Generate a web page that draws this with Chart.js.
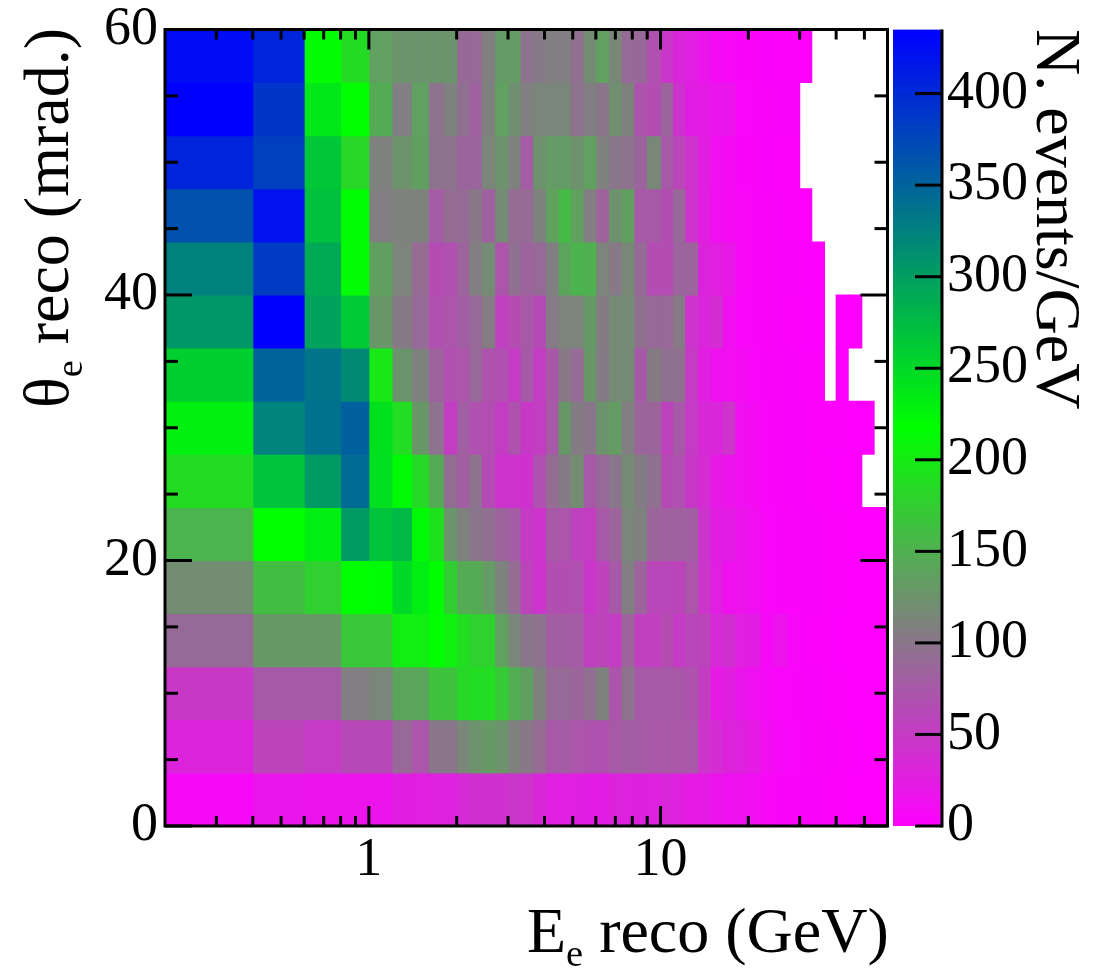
<!DOCTYPE html>
<html>
<head>
<meta charset="utf-8">
<title>Reco electron energy vs angle</title>
<script src="https://cdn.jsdelivr.net/npm/chart.js@4"></script>
<style>
  html, body { margin: 0; padding: 0; background: #fff; }
  #page { position: relative; width: 1096px; height: 972px; overflow: hidden; }
  canvas { position: absolute; top: 0; }
  #mapCanvas { left: 0; }
  #barCanvas { left: 890px; }
  .title { position: absolute; font: 64px/1 "Liberation Serif", serif; color: #000; white-space: nowrap; transform-origin: 0 0; }
  .title sub { font-size: 60%; line-height: 0; }
  #xTitle { left: 527px; top: 899px; }
  #yTitle { left: 15px; top: 408px; transform: rotate(-90deg); }
  #zTitle { left: 1090px; top: 29px; transform: rotate(90deg); }
</style>
</head>
<body>
<div id="page">
  <canvas id="mapCanvas" width="892" height="972" style="width:892px;height:972px"></canvas>
  <canvas id="barCanvas" width="206" height="972" style="width:206px;height:972px"></canvas>
  <div class="title" id="xTitle">E<sub>e</sub> reco (GeV)</div>
  <div class="title" id="yTitle">θ<sub>e</sub> reco (mrad.)</div>
  <div class="title" id="zTitle">N. events/GeV</div>
</div>
<script>
const energyEdges = [0.2, 0.4, 0.6, 0.8, 1, 1.2, 1.4, 1.6, 1.8, 2, 2.2, 2.43, 2.7, 3, 3.3, 3.64, 4.03, 4.45, 4.91, 5.43, 6, 6.63, 7.33, 8.1, 8.95, 10, 11, 12.1, 13.4, 14.8, 16.3, 18, 20, 22, 24.3, 27, 30, 33, 36.5, 40, 44, 49, 54, 60];
const thetaEdges = [0, 4, 8, 12, 16, 20, 24, 28, 32, 36, 40, 44, 48, 52, 56, 60];

// events/GeV per energy bin, one list per theta bin (null = empty bin, left white)
const row00to04 = [8, 18, 16, 16, 16, 25, 26, 28, 28, 36, 40, 42, 42, 46, 44, 34, 26, 26, 26, 24, 24, 30, 28, 28, 28, 32, 27, 22, 22, 17, 14, 14, 13, 7, 5, 4, 3, 3, 2, 2, 1, 1, 1];
const row04to08 = [30, 58, 50, 62, 62, 88, 72, 100, 100, 115, 125, 130, 125, 110, 102, 92, 75, 78, 72, 70, 68, 76, 80, 78, 74, 74, 74, 74, 44, 38, 30, 28, 22, 12, 8, 6, 5, 4, 3, 2, 2, 1, 1];
const row08to12 = [48, 76, 76, 108, 114, 140, 140, 165, 165, 185, 188, 188, 172, 147, 135, 110, 90, 90, 86, 94, 110, 72, 98, 76, 76, 76, 74, 70, 52, 22, 26, 18, 13, 8, 6, 5, 4, 3, 2, 2, 1, 1, 1];
const row12to16 = [90, 130, 130, 170, 170, 203, 203, 217, 205, 188, 178, 178, 136, 114, 100, 98, 80, 80, 78, 55, 58, 52, 84, 54, 54, 65, 50, 60, 58, 36, 40, 26, 24, 8, 16, 7, 3, 2, 2, 1, 1, 1, 1];
const row16to20 = [120, 162, 177, 217, 220, 250, 232, 218, 175, 145, 145, 132, 110, 92, 58, 44, 66, 66, 68, 46, 56, 76, 108, 84, 60, 60, 58, 72, 46, 26, 14, 16, 13, 6, 5, 4, 3, 3, 2, 2, 1, 1, 1];
const row20to24 = [153, 217, 232, 303, 268, 277, 222, 192, 126, 110, 100, 94, 84, 78, 50, 44, 76, 72, 56, 52, 76, 84, 114, 110, 86, 82, 82, 80, 43, 25, 24, 17, 13, 6, 5, 4, 3, 3, 2, 2, 1, 1, 1];
const row24to28 = [187, 268, 303, 343, 245, 222, 185, 145, 93, 80, 98, 64, 43, 43, 42, 68, 92, 105, 120, 76, 88, 100, 118, 105, 96, 64, 68, 47, 38, 21, 17, 13, 10, 5, 4, 3, 3, 2, 2, 1, 1, null, null];
const row28to32 = [230, 322, 338, 352, 243, 188, 128, 98, 52, 80, 68, 66, 52, 70, 48, 52, 76, 128, 106, 100, 126, 132, 108, 86, 86, 57, 76, 50, 34, 32, 44, 13, 9, 5, 4, 3, 3, 2, 2, 2, 1, 1, null];
const row32to36 = [258, 350, 335, 317, 199, 126, 110, 83, 68, 72, 88, 70, 68, 50, 76, 52, 75, 102, 92, 128, 105, 118, 118, 76, 106, 96, 96, 50, 26, 14, 12, 9, 6, 5, 4, 3, 2, 2, null, 1, null, null, null];
const row36to40 = [305, 435, 297, 262, 128, 104, 90, 68, 72, 80, 88, 106, 55, 65, 76, 64, 104, 112, 112, 130, 106, 118, 118, 96, 88, 88, 104, 44, 32, 38, 14, 6, 5, 4, 3, 2, 2, 1, null, 1, 1, null, null];
const row40to44 = [325, 384, 290, 215, 135, 112, 92, 65, 68, 85, 108, 118, 72, 95, 84, 90, 108, 140, 153, 150, 112, 103, 116, 90, 65, 65, 85, 85, 30, 26, 20, 7, 5, 4, 3, 3, 2, 1, null, null, null, null, null];
const row44to48 = [365, 420, 270, 220, 108, 110, 110, 78, 92, 92, 102, 82, 118, 92, 92, 110, 138, 158, 136, 108, 84, 124, 135, 76, 76, 66, 88, 44, 26, 12, 9, 7, 5, 4, 3, 2, 1, null, null, null, null, null, null];
const row48to52 = [405, 380, 265, 183, 110, 125, 135, 98, 98, 85, 85, 114, 124, 110, 77, 124, 132, 132, 124, 136, 110, 100, 98, 85, 115, 76, 60, 43, 25, 13, 9, 5, 4, 3, 2, 2, null, null, null, null, null, null, null];
const row52to56 = [435, 390, 238, 217, 145, 108, 136, 98, 110, 95, 82, 110, 136, 122, 108, 114, 114, 114, 98, 108, 100, 122, 110, 70, 65, 85, 42, 24, 22, 18, 17, 6, 5, 4, 3, 3, null, null, null, null, null, null, null];
const row56to60 = [425, 405, 215, 187, 136, 126, 126, 126, 126, 89, 89, 108, 132, 132, 98, 103, 108, 108, 95, 120, 136, 115, 90, 88, 68, 45, 32, 26, 18, 10, 7, 5, 4, 3, 2, 2, 1, null, null, null, null, null, null];
const thetaRows = [row00to04, row04to08, row08to12, row12to16, row16to20, row20to24, row24to28, row28to32, row32to36, row36to40, row40to44, row44to48, row48to52, row52to56, row56to60];

const xLabelTicks = [1, 10];
const xMinorTicks = [0.3, 0.4, 0.5, 0.6, 0.7, 0.8, 0.9, 2, 3, 4, 5, 6, 7, 8, 9, 20, 30, 40, 50];
const yLabelTicks = [0, 20, 40, 60];
const yMinorTicks = [5, 10, 15, 25, 30, 35, 45, 50, 55];
const zTicks = [0, 50, 100, 150, 200, 250, 300, 350, 400];
const zMax = 435;
const paletteStops = [[0, [255, 0, 255]], [0.25, [128, 128, 128]], [0.5, [0, 255, 0]], [1, [0, 0, 255]]];

const FONT = "'Liberation Serif', serif";

function cellColor(v) {
  const t = Math.min(v / zMax, 1);
  let i = 0;
  while (i < paletteStops.length - 2 && t > paletteStops[i + 1][0]) i++;
  const [t0, c0] = paletteStops[i];
  const [t1, c1] = paletteStops[i + 1];
  const f = (t - t0) / (t1 - t0);
  return `rgb(${c0.map((c, k) => Math.round(c + (c1[k] - c) * f)).join(",")})`;
}

// one dataset per energy bin, floating bars across the log axis
function buildDatasets() {
  return energyEdges.slice(0, -1).map((lo, col) => {
    const data = [];
    const colors = [];
    thetaRows.forEach((row, r) => {
      if (row[col] === null) return;
      data.push({ y: (thetaEdges[r] + thetaEdges[r + 1]) / 2, x: [lo, energyEdges[col + 1]] });
      colors.push(cellColor(row[col]));
    });
    return { data, backgroundColor: colors, borderWidth: 0, inflateAmount: 0.5, grouped: false, barPercentage: 1, categoryPercentage: 1 };
  });
}

function drawLine(ctx, x1, y1, x2, y2) {
  ctx.beginPath();
  ctx.moveTo(x1, y1);
  ctx.lineTo(x2, y2);
  ctx.stroke();
}

// ROOT style frame: inward ticks on all four sides
const frameTicks = {
  id: "frameTicks",
  afterDatasetsDraw(chart) {
    const { ctx, chartArea: a, scales: { x, y } } = chart;
    ctx.save();
    ctx.strokeStyle = "#000";
    ctx.lineWidth = 3;
    ctx.strokeRect(a.left, a.top, a.right - a.left, a.bottom - a.top);
    const xTick = (v, len) => {
      const p = x.getPixelForValue(v);
      drawLine(ctx, p, a.bottom, p, a.bottom - len);
      drawLine(ctx, p, a.top, p, a.top + len);
    };
    const yTick = (v, len) => {
      const p = y.getPixelForValue(v);
      drawLine(ctx, a.left, p, a.left + len, p);
      drawLine(ctx, a.right, p, a.right - len, p);
    };
    xMinorTicks.forEach((v) => xTick(v, 10));
    xLabelTicks.forEach((v) => xTick(v, 20));
    yMinorTicks.forEach((v) => yTick(v, 13));
    yLabelTicks.forEach((v) => yTick(v, 27));
    ctx.restore();
  },
};

const barTicks = {
  id: "barTicks",
  afterDatasetsDraw(chart) {
    const { ctx, chartArea: a, scales: { y } } = chart;
    ctx.save();
    ctx.strokeStyle = "#000";
    ctx.lineWidth = 3;
    drawLine(ctx, a.right, a.top, a.right, a.bottom + 1.5);
    zTicks.forEach((v) => {
      const p = y.getPixelForValue(v);
      drawLine(ctx, a.right, p, a.right - 27, p);
    });
    ctx.restore();
  },
};

new Chart(document.getElementById("mapCanvas"), {
  type: "bar",
  data: { datasets: buildDatasets() },
  plugins: [frameTicks],
  options: {
    indexAxis: "y",
    responsive: false,
    animation: false,
    layout: { padding: { top: 29.5, right: 4.5, left: 0, bottom: 0 } },
    plugins: { legend: { display: false }, tooltip: { enabled: false }, title: { display: false } },
    scales: {
      x: {
        type: "logarithmic",
        min: energyEdges[0],
        max: energyEdges[energyEdges.length - 1],
        grid: { display: false, drawTicks: false },
        border: { display: false },
        afterBuildTicks: (s) => { s.ticks = xLabelTicks.map((value) => ({ value })); },
        afterFit: (s) => { s.height = 146; s.paddingLeft = 0; s.paddingRight = 0; },
        ticks: { color: "#000", autoSkip: false, maxRotation: 0, padding: 2, font: { family: FONT, size: 54 }, callback: (v) => String(v) },
      },
      y: {
        type: "linear",
        offset: false,
        min: thetaEdges[0],
        max: thetaEdges[thetaEdges.length - 1],
        grid: { display: false, drawTicks: false },
        border: { display: false },
        afterBuildTicks: (s) => { s.ticks = yLabelTicks.map((value) => ({ value })); },
        afterFit: (s) => { s.width = 165; s.paddingTop = 0; s.paddingBottom = 0; },
        ticks: { color: "#000", autoSkip: false, padding: 7, font: { family: FONT, size: 54 } },
      },
    },
  },
});

new Chart(document.getElementById("barCanvas"), {
  type: "bar",
  data: {
    labels: ["z"],
    datasets: [{
      data: [[0, zMax]],
      borderWidth: 0,
      barPercentage: 1,
      categoryPercentage: 1,
      backgroundColor(c) {
        const { chart } = c;
        if (!chart.chartArea) return "#fff";
        const y = chart.scales.y;
        const g = chart.ctx.createLinearGradient(0, y.getPixelForValue(0), 0, y.getPixelForValue(zMax));
        paletteStops.forEach(([t, rgb]) => g.addColorStop(t, `rgb(${rgb.join(",")})`));
        return g;
      },
    }],
  },
  plugins: [barTicks],
  options: {
    responsive: false,
    animation: false,
    layout: { padding: { top: 29.5, left: 3, right: 0, bottom: 146 } },
    plugins: { legend: { display: false }, tooltip: { enabled: false } },
    scales: {
      x: { display: false },
      y: {
        position: "right",
        min: 0,
        max: zMax,
        grid: { display: false, drawTicks: false },
        border: { display: false },
        afterBuildTicks: (s) => { s.ticks = zTicks.map((value) => ({ value })); },
        afterFit: (s) => { s.width = 154; s.paddingTop = 0; s.paddingBottom = 0; },
        ticks: { color: "#000", autoSkip: false, padding: 5, font: { family: FONT, size: 54 } },
      },
    },
  },
});
</script>
</body>
</html>
